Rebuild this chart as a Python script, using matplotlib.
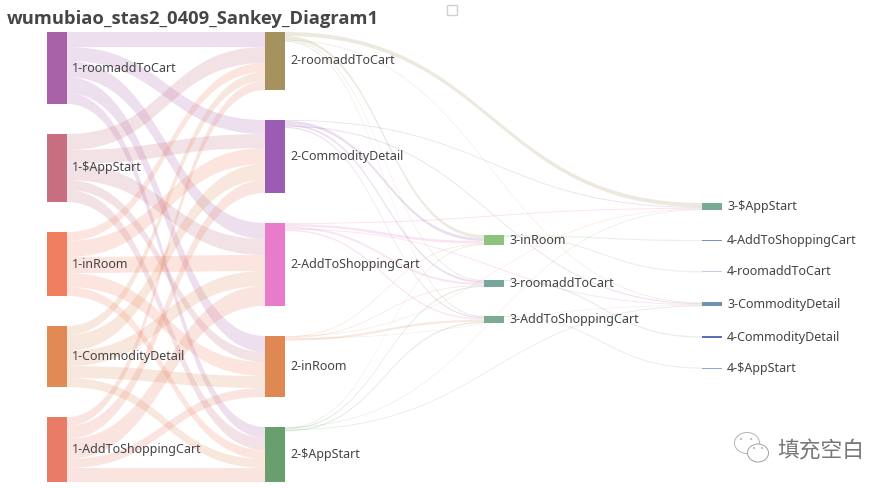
import matplotlib
matplotlib.use('Agg')
import matplotlib.pyplot as plt
from matplotlib.patches import PathPatch, Rectangle, Ellipse
from matplotlib.path import Path

# nodes per column, top to bottom
col1 = ['1-roomaddToCart', '1-$AppStart', '1-inRoom', '1-CommodityDetail', '1-AddToShoppingCart']
col2 = ['2-roomaddToCart', '2-CommodityDetail', '2-AddToShoppingCart', '2-inRoom', '2-$AppStart']
col3 = ['3-inRoom', '3-roomaddToCart', '3-AddToShoppingCart']
col4 = ['3-$AppStart', '4-AddToShoppingCart', '4-roomaddToCart', '3-CommodityDetail',
        '4-CommodityDetail', '4-$AppStart']

flows_1_2 = [[15, 14, 16, 16, 11],
             [16, 14, 16, 10, 12],
             [9, 16, 16, 14, 9],
             [9, 16, 15, 12, 9],
             [9, 13, 20, 9, 14]]
targets_2 = ['3-$AppStart', '3-inRoom', '3-roomaddToCart', '3-CommodityDetail', '3-AddToShoppingCart']
flows_2_3 = [[4, 3, 1, 0.7, 1.1],
             [0.8, 3, 2, 1, 1.2],
             [1, 2.5, 2, 1, 1.5],
             [0.6, 0.8, 0.8, 0.5, 2],
             [0.6, 0.7, 1.2, 0.8, 1.2]]
flows_3_4 = [('3-inRoom', '4-AddToShoppingCart', 1.2),
             ('3-inRoom', '4-roomaddToCart', 1.2),
             ('3-roomaddToCart', '4-CommodityDetail', 1.2),
             ('3-AddToShoppingCart', '4-$AppStart', 1.0)]

colors = {
    '1-roomaddToCart': '#a862a8', '1-$AppStart': '#c76f80', '1-inRoom': '#f07f60',
    '1-CommodityDetail': '#e08a56', '1-AddToShoppingCart': '#e87c66',
    '2-roomaddToCart': '#a6925f', '2-CommodityDetail': '#9b5db3', '2-AddToShoppingCart': '#e87bca',
    '2-inRoom': '#e08853', '2-$AppStart': '#689f6c',
    '3-inRoom': '#8cc47c', '3-roomaddToCart': '#78a69c', '3-AddToShoppingCart': '#7cab94',
    '3-$AppStart': '#78aa94', '3-CommodityDetail': '#6c94ac',
    '4-AddToShoppingCart': '#7c90cc', '4-roomaddToCart': '#c4cce8',
    '4-CommodityDetail': '#5c70b0', '4-$AppStart': '#90a8e0',
}

links = []
for i, s in enumerate(col1):
    for j, t in enumerate(col2):
        links.append((s, t, flows_1_2[i][j]))
for i, s in enumerate(col2):
    for j, t in enumerate(targets_2):
        links.append((s, t, flows_2_3[i][j]))
links += flows_3_4

# layout
node_w = 20
columns = [(col1, 47, 33, [30] * 4), (col2, 265, 33, [30] * 4),
           (col3, 484, 236, [35, 29]), (col4, 702, 204, [30] * 5)]

in_sum = {}
out_sum = {}
for s, t, v in links:
    out_sum[s] = out_sum.get(s, 0) + v
    in_sum[t] = in_sum.get(t, 0) + v

nodes = {}
for names, x, top, gaps in columns:
    y = top
    for k, name in enumerate(names):
        h = max(in_sum.get(name, 0), out_sum.get(name, 0))
        nodes[name] = (x, y, h)
        y += h + (gaps[k] if k < len(gaps) else 0)

fig = plt.figure(figsize=(8.92, 4.89), dpi=100)
ax = fig.add_axes([0, 0, 1, 1])
ax.set_xlim(0, 892)
ax.set_ylim(489, 0)
ax.axis('off')

# bands stack at each node ordered by the y of the other end
src_off = {}
for s in nodes:
    y = nodes[s][1]
    for l in sorted([l for l in links if l[0] == s], key=lambda l: nodes[l[1]][1]):
        src_off[(l[0], l[1])] = y
        y += l[2]
tgt_off = {}
for t in nodes:
    y = nodes[t][1]
    for l in sorted([l for l in links if l[1] == t], key=lambda l: nodes[l[0]][1]):
        tgt_off[(l[0], l[1])] = y
        y += l[2]

for s, t, v in links:
    x0 = nodes[s][0] + node_w
    x1 = nodes[t][0]
    xm = (x0 + x1) / 2
    y0 = src_off[(s, t)]
    y1 = tgt_off[(s, t)]
    verts = [(x0, y0), (xm, y0), (xm, y1), (x1, y1),
             (x1, y1 + v), (xm, y1 + v), (xm, y0 + v), (x0, y0 + v), (x0, y0)]
    codes = [Path.MOVETO, Path.CURVE4, Path.CURVE4, Path.CURVE4,
             Path.LINETO, Path.CURVE4, Path.CURVE4, Path.CURVE4, Path.CLOSEPOLY]
    ax.add_patch(PathPatch(Path(verts, codes), facecolor=colors[s], edgecolor='none', alpha=0.2, zorder=1))

label_font = ['Noto Sans', 'DejaVu Sans']
for name, (x, y, h) in nodes.items():
    ax.add_patch(Rectangle((x, y), node_w, h, facecolor=colors[name], edgecolor='none', zorder=2))
    ax.text(x + node_w + 5, y + h / 2 - 1, name, fontsize=9.0, color='#444444', va='center', ha='left',
            family=label_font, zorder=3)

ax.text(7, 19.5, 'wumubiao_stas2_0409_Sankey_Diagram1', fontsize=13.2, fontweight='bold',
        color='#464646', va='center', ha='left', family=['Open Sans', 'DejaVu Sans'])

# little empty box at the top
ax.add_patch(Rectangle((447, 6), 10, 10, facecolor='white', edgecolor='#d0d0d0', lw=1))

# watermark
ax.add_patch(Ellipse((747, 444), 25, 21, facecolor='white', edgecolor='#b5b5b5', lw=0.7, zorder=4))
ax.add_patch(Ellipse((758, 454), 21, 18, facecolor='white', edgecolor='#a0a0a0', lw=0.7, zorder=5))
for dx, dy in [(741, 440), (751, 440), (754, 449), (762, 449)]:
    ax.add_patch(Ellipse((dx, dy), 1.8, 1.8, facecolor='#a0a0a0', edgecolor='none', zorder=6))
ax.text(777, 451, '填充空白', fontsize=15.7, color='#777777', va='center', ha='left',
        family=['Noto Sans CJK SC', 'DejaVu Sans'])

fig.savefig('out.png', dpi=100)
